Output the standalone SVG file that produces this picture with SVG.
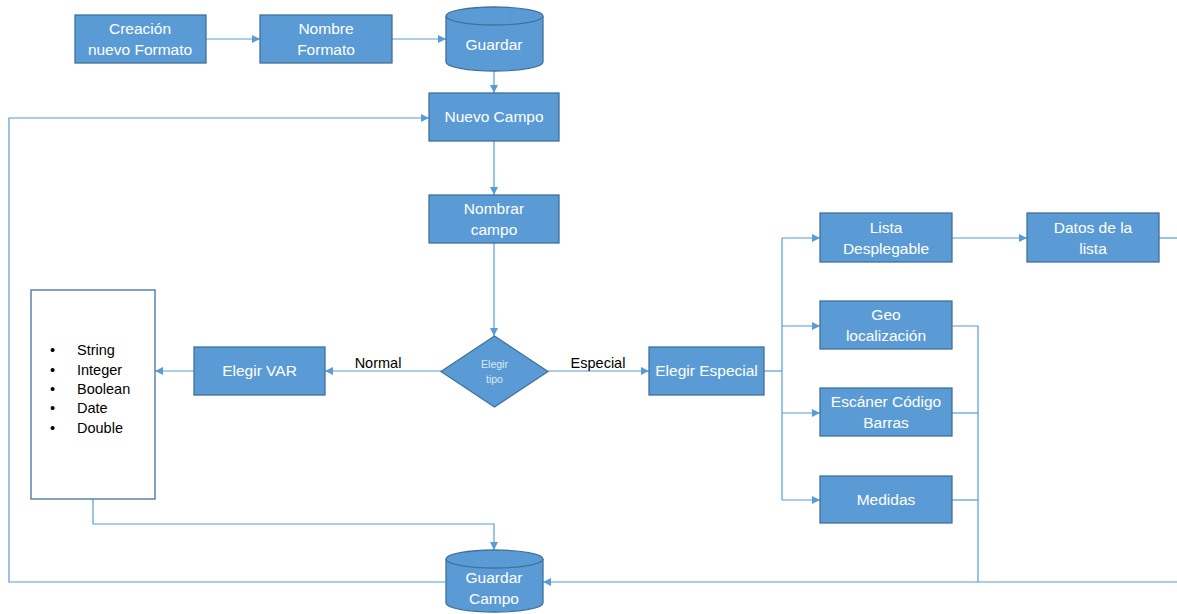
<svg xmlns="http://www.w3.org/2000/svg" width="1177" height="614" viewBox="0 0 1177 614">
<style>
.box{fill:#5B9BD5;stroke:#41719C;stroke-width:1.3}
.lst{fill:#FFFFFF;stroke:#41719C;stroke-width:1.3}
.t{font-family:"Liberation Sans",Arial,sans-serif;font-size:15.5px;fill:#FFFFFF;text-anchor:middle}
.k{font-family:"Liberation Sans",Arial,sans-serif;font-size:14.5px;fill:#000000}
.small{font-family:"Liberation Sans",Arial,sans-serif;font-size:10.5px;fill:#DCE9F7;text-anchor:middle}
.c{fill:none;stroke:#5B9BD5;stroke-width:1.2}
</style>
<defs>
<marker id="a" viewBox="0 0 10 10" refX="10" refY="5" markerWidth="8" markerHeight="8" markerUnits="userSpaceOnUse" orient="auto">
<path d="M0,0 L10,5 L0,10 z" fill="#5B9BD5"/>
</marker>
</defs>
<rect width="1177" height="614" fill="#FFFFFF"/>
<g id="connectors">
<path class="c" d="M206,39 H260" marker-end="url(#a)"/>
<path class="c" d="M392,39 H446" marker-end="url(#a)"/>
<path class="c" d="M494,71 V93" marker-end="url(#a)"/>
<path class="c" d="M494,141 V195" marker-end="url(#a)"/>
<path class="c" d="M494,243 V336" marker-end="url(#a)"/>
<path class="c" d="M441,371 H325" marker-end="url(#a)"/>
<path class="c" d="M194,371 H155" marker-end="url(#a)"/>
<path class="c" d="M548,371 H649" marker-end="url(#a)"/>
<path class="c" d="M764,371 H782"/>
<path class="c" d="M782,238 V500"/>
<path class="c" d="M782,238 H820" marker-end="url(#a)"/>
<path class="c" d="M782,326 H820" marker-end="url(#a)"/>
<path class="c" d="M782,413 H820" marker-end="url(#a)"/>
<path class="c" d="M782,500 H820" marker-end="url(#a)"/>
<path class="c" d="M952,238 H1027" marker-end="url(#a)"/>
<path class="c" d="M1159,238 H1177"/>
<path class="c" d="M952,326 H978 V582"/>
<path class="c" d="M952,413 H978"/>
<path class="c" d="M952,500 H978"/>
<path class="c" d="M1177,582 H543" marker-end="url(#a)"/>
<path class="c" d="M93,499 V524 H494 V550" marker-end="url(#a)"/>
<path class="c" d="M446,582 H9 V118 H429" marker-end="url(#a)"/>
<text class="k" x="378" y="368" text-anchor="middle">Normal</text>
<text class="k" x="598" y="368" text-anchor="middle">Especial</text>
</g>
<g id="creacion">
<rect class="box" x="75" y="15" width="131" height="48"/>
<text class="t" x="140" y="34">Creación</text>
<text class="t" x="140" y="55">nuevo Formato</text>
</g>
<g id="nombre-formato">
<rect class="box" x="260" y="15" width="132" height="48"/>
<text class="t" x="326" y="34">Nombre</text>
<text class="t" x="326" y="55">Formato</text>
</g>
<g id="guardar">
<path class="box" d="M446,16 A48.5,9 0 0 1 543,16 V62 A48.5,9 0 0 1 446,62 Z"/>
<path class="box" d="M446,16 A48.5,9 0 0 0 543,16"/>
<text class="t" x="494" y="50">Guardar</text>
</g>
<g id="nuevo-campo">
<rect class="box" x="429" y="93" width="130" height="48"/>
<text class="t" x="494" y="122">Nuevo Campo</text>
</g>
<g id="nombrar-campo">
<rect class="box" x="429" y="195" width="130" height="48"/>
<text class="t" x="494" y="214">Nombrar</text>
<text class="t" x="494" y="235">campo</text>
</g>
<g id="elegir-tipo">
<path class="box" d="M494.5,336 L548,371.5 L494.5,407 L441,371.5 Z"/>
<text class="small" x="494.5" y="368">Elegir</text>
<text class="small" x="494.5" y="383">tipo</text>
</g>
<g id="elegir-var">
<rect class="box" x="194" y="347" width="131" height="48"/>
<text class="t" x="259.5" y="376">Elegir VAR</text>
</g>
<g id="tipos">
<rect class="lst" x="31" y="290" width="124" height="209"/>
<g class="k">
<text x="50" y="355">•</text><text x="77" y="355">String</text>
<text x="50" y="375">•</text><text x="77" y="375">Integer</text>
<text x="50" y="394">•</text><text x="77" y="394">Boolean</text>
<text x="50" y="413">•</text><text x="77" y="413">Date</text>
<text x="50" y="433">•</text><text x="77" y="433">Double</text>
</g>
</g>
<g id="elegir-especial">
<rect class="box" x="649" y="347" width="115" height="48"/>
<text class="t" x="706.5" y="376">Elegir Especial</text>
</g>
<g id="lista-desplegable">
<rect class="box" x="820" y="213" width="132" height="49"/>
<text class="t" x="886" y="233">Lista</text>
<text class="t" x="886" y="254">Desplegable</text>
</g>
<g id="datos-lista">
<rect class="box" x="1027" y="213" width="132" height="49"/>
<text class="t" x="1093" y="233">Datos de la</text>
<text class="t" x="1093" y="254">lista</text>
</g>
<g id="geo">
<rect class="box" x="820" y="301" width="132" height="48"/>
<text class="t" x="886" y="320">Geo</text>
<text class="t" x="886" y="341">localización</text>
</g>
<g id="escaner">
<rect class="box" x="820" y="388" width="132" height="48"/>
<text class="t" x="886" y="407">Escáner Código</text>
<text class="t" x="886" y="428">Barras</text>
</g>
<g id="medidas">
<rect class="box" x="820" y="476" width="132" height="47"/>
<text class="t" x="886" y="505">Medidas</text>
</g>
<g id="guardar-campo">
<path class="box" d="M446,559 A48.5,9 0 0 1 543,559 V603 A48.5,9 0 0 1 446,603 Z"/>
<path class="box" d="M446,559 A48.5,9 0 0 0 543,559"/>
<text class="t" x="494" y="583">Guardar</text>
<text class="t" x="494" y="604">Campo</text>
</g>
</svg>
